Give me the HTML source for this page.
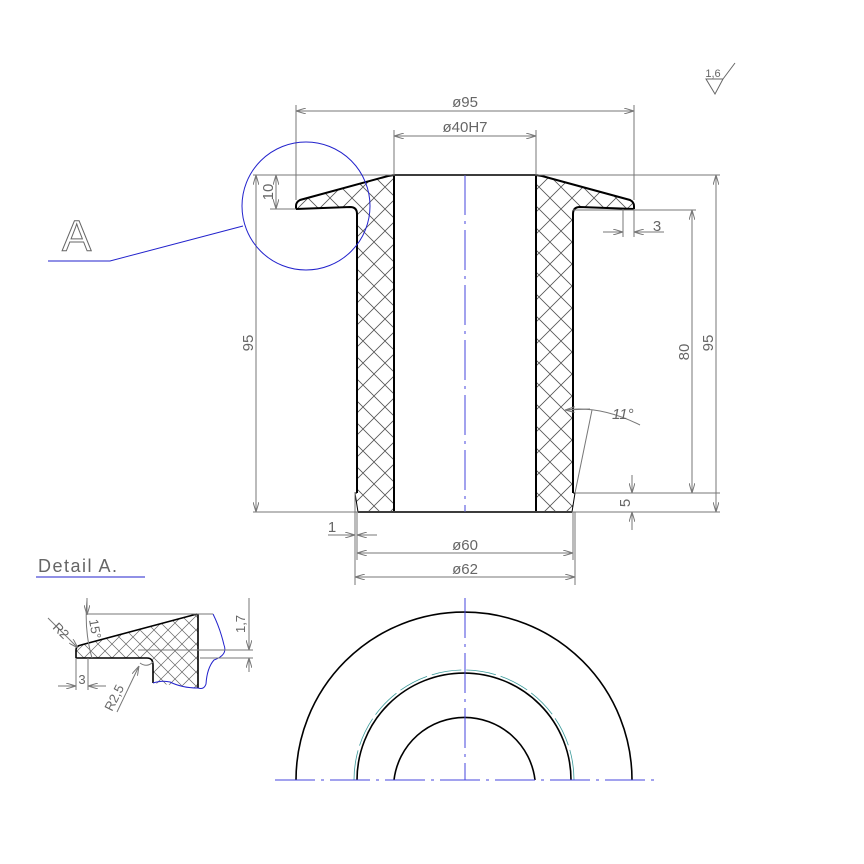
<!DOCTYPE html>
<html><head><meta charset="utf-8"><style>html,body{margin:0;padding:0;background:#fff}svg{display:block}</style></head>
<body>
<svg width="864" height="864" viewBox="0 0 864 864" xmlns="http://www.w3.org/2000/svg" font-family="Liberation Sans, sans-serif">
<defs>
<pattern id="h" width="22" height="22" patternUnits="userSpaceOnUse">
<path d="M0,0L22,22M22,0L0,22" stroke="#555" stroke-width="0.8"/>
</pattern>
<pattern id="h2" width="14" height="14" patternUnits="userSpaceOnUse">
<path d="M0,0L14,14M14,0L0,14" stroke="#666" stroke-width="0.7"/>
</pattern>
<marker id="a" viewBox="0 0 10 6" refX="10" refY="3" markerWidth="10" markerHeight="6" orient="auto-start-reverse" markerUnits="userSpaceOnUse"><path d="M0,0L10,3L0,6" fill="none" stroke="#777" stroke-width="1"/></marker>
</defs>

<path d="M394,175 L388,176 L300,200 Q296,202 296,206 L296,209 L350,207 Q357,207 357,214 L357,493 L355,493 L358,512 L394,512 Z" fill="url(#h)"/>
<path d="M536,175 L542,176 L630,200 Q634,202 634,206 L634,209 L580,207 Q573,207 573,214 L573,493 L575,493 L572,512 L536,512 Z" fill="url(#h)"/>
<g fill="none" stroke="#000" stroke-width="2">
<path d="M296,209 L296,206 Q296,202 300,200 L388,176 L394,175 L536,175 L542,176 L630,200 Q634,202 634,206 L634,209"/>
<path d="M296,209 L350,207 Q357,207 357,214 L357,493"/>
<path d="M634,209 L580,207 Q573,207 573,214 L573,493"/>
<path d="M394,175 L394,512 M536,175 L536,512 M358,512 L572,512"/>
</g>
<path d="M357,493 L355,493 L358,512 M573,493 L575,493 L572,512" fill="none" stroke="#000" stroke-width="1"/>
<path d="M465,175 L465,512" stroke="#4444dd" stroke-width="1" stroke-dasharray="40,6,3,6"/>

<g fill="none" stroke="#777" stroke-width="1">
<path d="M296,200 L296,105 M634,200 L634,105 M394,175 L394,130 M536,175 L536,130"/>
<path d="M296,111 L634,111" marker-start="url(#a)" marker-end="url(#a)"/>
<path d="M394,136 L536,136" marker-start="url(#a)" marker-end="url(#a)"/>
<path d="M253,175 L720,175 M253,512 L720,512 M270,209 L296,209 M573,210 L696,210 M575,493 L720,493"/>
<path d="M256,175 L256,512" marker-start="url(#a)" marker-end="url(#a)"/>
<path d="M276,175 L276,209" marker-start="url(#a)" marker-end="url(#a)"/>
<path d="M692,210 L692,493" marker-start="url(#a)" marker-end="url(#a)"/>
<path d="M716,175 L716,512" marker-start="url(#a)" marker-end="url(#a)"/>
<path d="M623,209 L623,237 M634,209 L634,237"/>
<path d="M603,232 L623,232" marker-end="url(#a)"/><path d="M664,232 L634,232" marker-end="url(#a)"/>
<path d="M632,475 L632,493" marker-end="url(#a)"/><path d="M632,530 L632,512" marker-end="url(#a)"/>
<path d="M575,493 L592,410"/>
<path d="M565,410 Q600,405 640,425"/><path d="M590,409 L565,410" marker-end="url(#a)"/>
<path d="M355,493 L355,585 M357,512 L357,560 M573,512 L573,560 M575,512 L575,585"/>
<path d="M328,535 L355,535" marker-end="url(#a)"/><path d="M377,535 L357,535" marker-end="url(#a)"/>
<path d="M357,553 L573,553" marker-start="url(#a)" marker-end="url(#a)"/>
<path d="M355,577 L575,577" marker-start="url(#a)" marker-end="url(#a)"/>
</g>
<g fill="#666" font-size="15">
<text x="465" y="107" text-anchor="middle">ø95</text>
<text x="465" y="132" text-anchor="middle">ø40H7</text>
<text x="657" y="231" text-anchor="middle">3</text>
<text x="612" y="419" font-style="italic">11°</text>
<text x="332" y="532" text-anchor="middle">1</text>
<text x="465" y="550" text-anchor="middle">ø60</text>
<text x="465" y="574" text-anchor="middle">ø62</text>
<text transform="translate(273,192) rotate(-90)" text-anchor="middle">10</text>
<text transform="translate(253,343) rotate(-90)" text-anchor="middle">95</text>
<text transform="translate(689,352) rotate(-90)" text-anchor="middle">80</text>
<text transform="translate(713,343) rotate(-90)" text-anchor="middle">95</text>
<text transform="translate(630,503) rotate(-90)" text-anchor="middle">5</text>
</g>

<circle cx="306" cy="206" r="64" fill="none" stroke="#2222cc" stroke-width="1"/>
<path d="M243,226 L110,261 L48,261" fill="none" stroke="#2222cc" stroke-width="1"/>
<text x="62" y="251" font-size="44" fill="none" stroke="#666" stroke-width="1">A</text>

<path d="M706,79 L723,79 L715,94 Z M723,79 L735,63" fill="none" stroke="#666" stroke-width="1"/>
<text x="713" y="77" font-size="11" fill="#666" text-anchor="middle">1,6</text>

<text x="38" y="572" font-size="18" fill="#666" letter-spacing="1.5">Detail  A.</text>
<path d="M36,577 L145,577" stroke="#2222cc" stroke-width="1"/>
<path d="M78,646 L197,614 L198,614 L198,688 L153,683 L153,665 Q153,658 147,658 L76,658 L76,650 Q76,646 80,645 Z" fill="url(#h2)"/>
<g fill="none" stroke="#000" stroke-width="1.6">
<path d="M76,658 L76,650 Q76,646 81,645 L197,614"/>
<path d="M76,658 L147,658 Q153,658 153,665 L153,683"/>
<path d="M198,614 L198,688"/>
</g>
<g fill="none" stroke="#2222cc" stroke-width="1">
<path d="M213,614 Q220,628 224,645 Q228,655 214,660 Q207,668 206,684 Q204,690 198,688"/>
<path d="M153,683 Q162,680 170,682 Q182,688 198,688"/>
</g>
<g fill="none" stroke="#777" stroke-width="1">
<path d="M87,614 L213,614 M138,650 L253,650 M200,658 L253,658"/>
<path d="M249,598 L249,650" marker-end="url(#a)"/><path d="M249,672 L249,658" marker-end="url(#a)"/>
<path d="M76,658 L76,690 M88,658 L88,690"/>
<path d="M58,686 L76,686" marker-end="url(#a)"/><path d="M106,686 L88,686" marker-end="url(#a)"/>
<path d="M48,618 L78,648" marker-end="url(#a)"/>
<path d="M117,712 L139,666" marker-end="url(#a)"/>
<path d="M87,600 Q84,630 92,658" /><path d="M87,598 L87,615" marker-end="url(#a)"/>
<path d="M140,663 Q147,668 153,662"/>
</g>
<g fill="#666" font-size="13">
<text transform="translate(52,628) rotate(45)">R2</text>
<text transform="translate(89,620) rotate(80)">15°</text>
<text x="82" y="684" text-anchor="middle">3</text>
<text transform="translate(245,624) rotate(-90)" text-anchor="middle">1,7</text>
<text transform="translate(112,712) rotate(-63)">R2,5</text>
</g>

<g fill="none" stroke="#000" stroke-width="1.6">
<path d="M296,780 A168,168 0 0 1 632,780"/>
<path d="M357,780 A107,107 0 0 1 571,780"/>
<path d="M394,780 A71,71 0 0 1 535,780"/>
</g>
<path d="M354,780 A110,110 0 0 1 574,780" fill="none" stroke="#3a9a9a" stroke-width="0.8" stroke-dasharray="30,5"/>
<path d="M275,780 L655,780" stroke="#4444dd" stroke-width="1" stroke-dasharray="40,6,3,6"/>
<path d="M465,598 L465,780" stroke="#4444dd" stroke-width="1" stroke-dasharray="40,6,3,6"/>
</svg>
</body></html>
